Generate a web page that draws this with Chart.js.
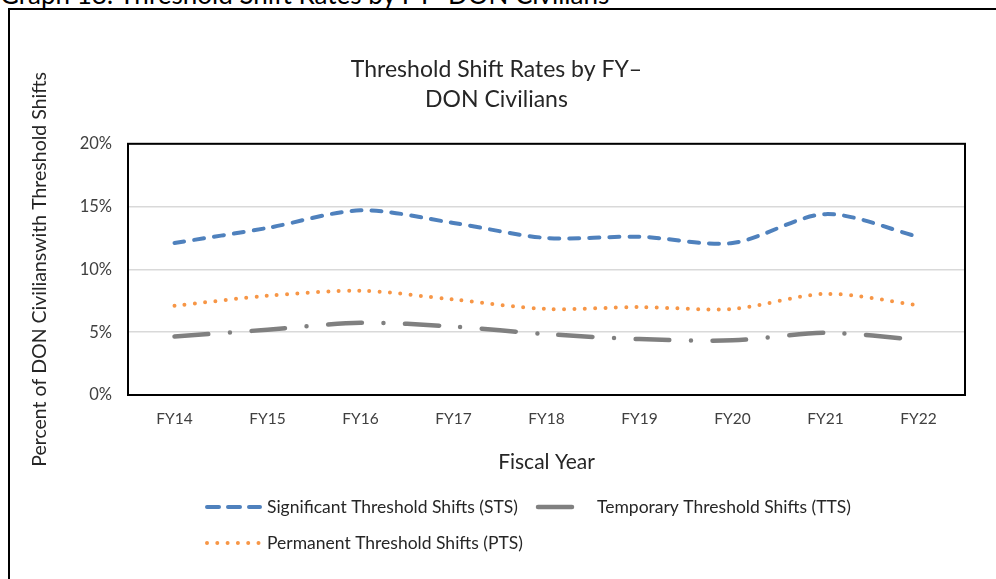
<!DOCTYPE html>
<html>
<head>
<meta charset="utf-8">
<script src="https://cdn.jsdelivr.net/npm/chart.js@4"></script>
<style>
  html, body { margin: 0; padding: 0; background: #fff; overflow: hidden; }
  body { width: 996px; height: 579px; position: relative; font-family: Lato, sans-serif; }
  .caption { position: absolute; left: 0; top: -19px; font-size: 26px; line-height: 26px; color: #000; white-space: nowrap; }
  .frame { position: absolute; left: 8px; top: 8px; width: 1000px; height: 600px; border-left: 2px solid #000; border-top: 2px solid #000; }
  .wrap { position: absolute; left: 0; top: 0; width: 996px; height: 579px; }
</style>
</head>
<body>
<div class="caption">Graph 18: Threshold Shift Rates by FY–DON Civilians</div>
<div class="frame"></div>
<div class="wrap"><canvas id="chart"></canvas></div>
<script>
// values (percent)
const fiscalYears = ['FY14', 'FY15', 'FY16', 'FY17', 'FY18', 'FY19', 'FY20', 'FY21', 'FY22'];
const stsRates = [12.1, 13.3, 14.7, 13.7, 12.5, 12.6, 12.1, 14.4, 12.6];
const ttsRates = [4.65, 5.2, 5.75, 5.45, 4.85, 4.45, 4.35, 4.95, 4.4];
const ptsRates = [7.1, 7.9, 8.3, 7.6, 6.85, 7.0, 6.85, 8.05, 7.15];
const yTicks = [0, 5, 10, 15, 20];

// black box round the plot area, like the Excel original
const plotBorder = {
    id: 'plotBorder',
    beforeDatasetsDraw(chart) {
        const { ctx, chartArea: a } = chart;
        ctx.save();
        ctx.strokeStyle = '#000';
        ctx.lineWidth = 2;
        ctx.strokeRect(a.left, a.top, a.right - a.left, a.bottom - a.top);
        ctx.restore();
    }
};

// legend laid out the way Excel wrapped it (two on the first row, one below)
const excelLegend = {
    id: 'excelLegend',
    afterDraw(chart) {
        const ctx = chart.ctx;
        const items = [
            { ds: 0, x: 205, y: 507, w: 57, gap: 5, dash: [12, 9] },
            { ds: 1, x: 536, y: 507, w: 40, gap: 21 },
            { ds: 2, x: 205, y: 543, w: 57, gap: 5 }
        ];
        ctx.save();
        ctx.font = '17.5px Lato';
        ctx.textBaseline = 'middle';
        items.forEach(it => {
            const ds = chart.data.datasets[it.ds];
            ctx.strokeStyle = ds.borderColor;
            ctx.lineWidth = ds.borderWidth;
            ctx.lineCap = 'round';
            ctx.setLineDash(it.dash || ds.borderDash);
            ctx.beginPath();
            ctx.moveTo(it.x + 2, it.y);
            ctx.lineTo(it.x + it.w - 2, it.y);
            ctx.stroke();
            ctx.setLineDash([]);
            ctx.fillStyle = '#262626';
            ctx.fillText(ds.label, it.x + it.w + it.gap, it.y);
        });
        ctx.restore();
    }
};

Chart.defaults.font.family = 'Lato, sans-serif';
Chart.defaults.animation = false;

new Chart(document.getElementById('chart'), {
    type: 'line',
    data: {
        labels: fiscalYears,
        datasets: [
            {
                label: 'Significant Threshold Shifts (STS)',
                data: stsRates,
                borderColor: '#4F81BD',
                borderWidth: 4,
                borderDash: [10, 10],
                borderCapStyle: 'round',
                tension: 0.3,
                pointRadius: 0
            },
            {
                label: 'Temporary Threshold Shifts (TTS)',
                data: ttsRates,
                borderColor: '#808080',
                borderWidth: 4.5,
                borderDash: [34, 21.5, 0, 21.5],
                borderCapStyle: 'round',
                tension: 0.3,
                pointRadius: 0
            },
            {
                label: 'Permanent Threshold Shifts (PTS)',
                data: ptsRates,
                borderColor: '#F79646',
                borderWidth: 4,
                borderDash: [0, 10.3],
                borderCapStyle: 'round',
                tension: 0.3,
                pointRadius: 0
            }
        ]
    },
    options: {
        responsive: true,
        maintainAspectRatio: false,
        layout: { padding: { left: 28, right: 31, top: 40, bottom: 99 } },
        plugins: {
            legend: { display: false },
            tooltip: { enabled: false },
            title: {
                display: true,
                text: ['Threshold Shift Rates by FY–', 'DON Civilians'],
                color: '#262626',
                font: { size: 23, weight: 'normal', lineHeight: 1.3 },
                padding: { top: 15, bottom: 29 }
            }
        },
        scales: {
            x: {
                offset: true,
                grid: { display: false, drawTicks: false },
                border: { display: false },
                ticks: { color: '#404040', font: { size: 15.5 }, padding: 15 },
                title: {
                    display: true,
                    text: 'Fiscal Year',
                    color: '#262626',
                    font: { size: 21 },
                    padding: { top: 4, bottom: 5 }
                },
                afterFit(scale) { scale.height = 85; }
            },
            y: {
                min: 0,
                max: 20,
                afterBuildTicks(scale) { scale.ticks = yTicks.map(v => ({ value: v })); },
                grid: { color: '#D9D9D9', lineWidth: 1.5, drawTicks: false },
                border: { display: false },
                ticks: { color: '#404040', font: { size: 16.5 }, padding: 16, callback: v => v + '%' },
                title: {
                    display: true,
                    text: 'Percent of DON Civilianswith Threshold Shifts',
                    color: '#262626',
                    font: { size: 19.5 },
                    padding: { top: 0, bottom: 0 }
                },
                afterFit(scale) { scale.width = 100; }
            }
        }
    },
    plugins: [plotBorder, excelLegend]
});
</script>
</body>
</html>
